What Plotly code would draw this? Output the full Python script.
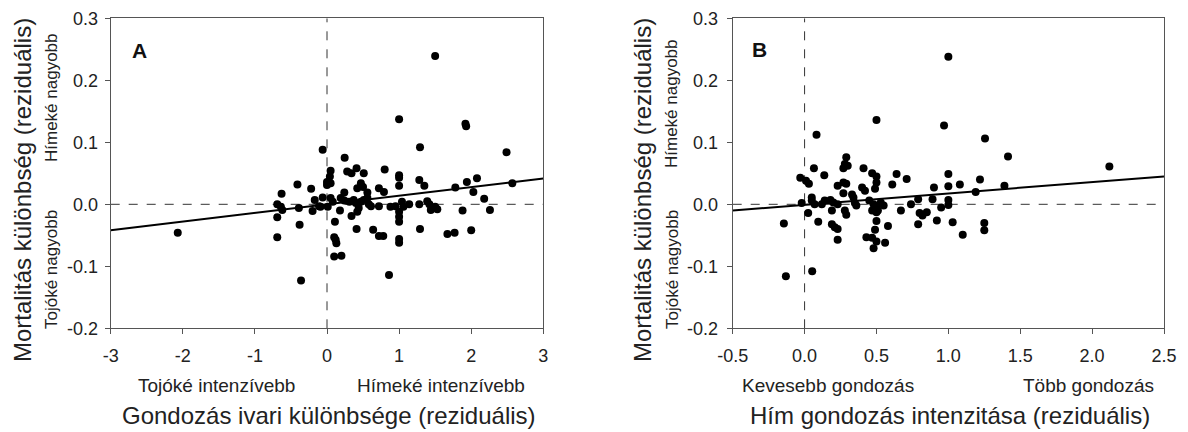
import plotly.graph_objects as go

# browser body margin offset (page places the figure 8px from the top-left)
OFF = 8
W, H = 1188 - OFF, 432 - OFF

# ---- Panel A data: sex difference in care (residual) vs mortality difference ----
a_x = [1.50, 1.00, 1.92, 1.93, 1.29, 2.49, -0.06, 0.245, 0.80, 0.41,
       0.28, 0.34, 0.51, 0.05, 0.04, 1.00, 1.00, 0.00, 0.05, 0.00,
       -0.41, -0.22, -0.63, 0.47, 0.50, 0.42, 0.56, 0.72, 0.79, 1.00,
       1.28, 1.35, 1.78, 1.94, 2.08, 2.03, 2.18, 2.57, 0.24, -0.17,
       -0.06, 0.05, 0.08, -0.11, -0.20, -0.39, -0.69, -0.64, -0.62, -0.69,
       -0.69, -0.38, -2.07, -0.36, 0.11, 0.10, 0.12, 0.13, 0.10, 0.20,
       0.18, 0.34, 0.41, 0.42, 0.44, 0.37, 0.40, 0.47, 0.51, 0.58,
       0.61, 0.72, 0.64, 0.72, 0.78, 0.86, 0.88, 0.95, 1.00, 1.00,
       1.00, 1.00, 1.00, 1.04, 1.06, 1.14, 1.28, 1.29, 1.39, 1.42,
       1.44, 1.50, 1.53, 1.67, 1.77, 1.88, 2.00, 2.26, 0.19, 0.24,
       0.31, 0.56, 0.01, -0.09]
a_y = [0.239, 0.137, 0.130, 0.126, 0.092, 0.084, 0.088, 0.075, 0.056, 0.058,
       0.053, 0.050, 0.050, 0.054, 0.045, 0.047, 0.043, 0.036, 0.034, 0.031,
       0.032, 0.025, 0.017, 0.034, 0.028, 0.026, 0.019, 0.026, 0.020, 0.030,
       0.039, 0.030, 0.027, 0.036, 0.042, 0.020, 0.009, 0.034, 0.019, 0.007,
       0.011, 0.010, 0.004, -0.003, -0.011, -0.006, 0.000, -0.004, -0.009, -0.021,
       -0.053, -0.033, -0.046, -0.123, -0.028, -0.053, -0.057, -0.063, -0.084, -0.083,
       -0.010, -0.019, -0.040, -0.012, -0.006, 0.007, 0.002, 0.004, 0.007, 0.000,
       -0.003, -0.003, -0.041, -0.051, -0.051, -0.114, -0.004, -0.003, -0.012, -0.020,
       -0.028, -0.056, -0.062, 0.004, -0.004, 0.000, 0.000, -0.040, 0.005, 0.000,
       -0.009, -0.004, -0.008, -0.048, -0.046, -0.010, -0.042, -0.009, 0.010, 0.006,
       0.004, 0.010, -0.004, -0.004]
a_intercept, a_slope = 0.000, 0.0139

# ---- Panel B data: male care intensity (residual) vs mortality difference ----
b_x = [1.00, 0.50, 0.97, 0.083, 1.255, 1.415, 2.12, 0.29, 0.28, 0.27,
       0.30, 0.065, 0.41, 0.47, 0.50, 0.50, 0.49, 0.64, 0.71, 1.00,
       0.137, -0.03, 0.01, 0.03, 0.27, 0.23, 0.29, 0.40, 0.42, 0.61,
       0.90, 1.00, 1.08, 1.22, 1.39, 1.19, 0.27, 0.33, 0.34, 0.05,
       0.05, -0.02, 0.07, 0.12, 0.14, 0.18, 0.20, 0.23, 0.19, 0.28,
       0.29, 0.35, 0.36, 0.45, 0.48, 0.50, 0.51, 0.53, 0.55, 0.47,
       0.50, 0.67, 0.74, 0.79, 0.89, 0.95, 1.00, 1.00, 0.80, 0.82,
       0.85, 0.79, 0.92, 1.03, 1.10, 1.25, 1.25, 0.025, 0.095, -0.144,
       0.19, 0.21, 0.23, 0.23, 0.50, 0.49, 0.58, 0.43, 0.47, 0.48,
       0.50, 0.56, -0.13, 0.053]
b_y = [0.238, 0.136, 0.127, 0.112, 0.106, 0.077, 0.061, 0.076, 0.065, 0.058,
       0.062, 0.058, 0.058, 0.050, 0.045, 0.035, 0.025, 0.049, 0.041, 0.049,
       0.047, 0.043, 0.038, 0.033, 0.035, 0.030, 0.033, 0.027, 0.022, 0.032,
       0.027, 0.029, 0.032, 0.040, 0.030, 0.020, 0.018, 0.016, 0.011, 0.011,
       0.006, 0.002, 0.000, 0.000, 0.006, 0.007, 0.003, 0.000, -0.010, -0.010,
       -0.017, 0.002, -0.002, 0.006, 0.000, -0.005, -0.010, 0.003, -0.002, -0.010,
       -0.013, -0.010, 0.000, 0.008, 0.008, -0.005, -0.001, 0.007, -0.014, -0.018,
       -0.013, -0.032, -0.026, -0.029, -0.049, -0.030, -0.042, -0.014, -0.028, -0.031,
       -0.032, -0.037, -0.040, -0.057, -0.027, -0.041, -0.035, -0.053, -0.054, -0.071,
       -0.060, -0.062, -0.116, -0.108]
b_intercept, b_slope = -0.0008, 0.0183

a_xrange = [-3, 3]
b_xrange = [-0.5, 2.5]
y_range = [-0.2, 0.3]

# tick labels (hyphen minus as in the original)
a_xticks = [-3, -2, -1, 0, 1, 2, 3]
a_xticktext = ["-3", "-2", "-1", "0", "1", "2", "3"]
b_xticks = [-0.5, 0.0, 0.5, 1.0, 1.5, 2.0, 2.5]
b_xticktext = ["-0.5", "0.0", "0.5", "1.0", "1.5", "2.0", "2.5"]
y_ticks = [-0.2, -0.1, 0.0, 0.1, 0.2, 0.3]
y_ticktext = ["-0.2", "-0.1", "0.0", "0.1", "0.2", "0.3"]

FONT = "Arial, 'Liberation Sans', sans-serif"
AX = "#555555"
TXT = "#222222"

# plot-area pixel geometry (page coordinates)
A_L, A_R = 110.7, 543.3
B_L, B_R = 732.7, 1164.0
P_T, P_B = 18.3, 328.3


def px(x):
    return (x - OFF) / W


def py(y):
    return 1 - (y - OFF) / H


fig = go.Figure()

marker = dict(color="black", size=8, line=dict(width=0))
fig.add_trace(go.Scatter(x=a_x, y=a_y, mode="markers", marker=marker,
                         xaxis="x", yaxis="y", showlegend=False))
fig.add_trace(go.Scatter(x=a_xrange,
                         y=[a_intercept + a_slope * v for v in a_xrange],
                         mode="lines", line=dict(color="black", width=2),
                         xaxis="x", yaxis="y", showlegend=False))
fig.add_trace(go.Scatter(x=b_x, y=b_y, mode="markers", marker=marker,
                         xaxis="x2", yaxis="y2", showlegend=False))
fig.add_trace(go.Scatter(x=b_xrange,
                         y=[b_intercept + b_slope * v for v in b_xrange],
                         mode="lines", line=dict(color="black", width=2),
                         xaxis="x2", yaxis="y2", showlegend=False))

axis_common = dict(showline=True, linecolor=AX, linewidth=1, mirror=True,
                   ticks="outside", ticklen=5, tickcolor=AX, tickwidth=1,
                   showgrid=False, zeroline=False, automargin=False,
                   tickmode="array",
                   tickfont=dict(family=FONT, size=18, color=TXT))

fig.update_layout(
    width=W, height=H,
    margin=dict(l=0, r=0, t=0, b=0, autoexpand=False),
    paper_bgcolor="white", plot_bgcolor="white",
    xaxis=dict(domain=[px(A_L), px(A_R)], range=a_xrange,
               tickvals=a_xticks, ticktext=a_xticktext,
               anchor="y", ticklabelstandoff=6, **axis_common),
    yaxis=dict(domain=[py(P_B), py(P_T)], range=y_range,
               tickvals=y_ticks, ticktext=y_ticktext,
               anchor="x", ticklabelstandoff=3, **axis_common),
    xaxis2=dict(domain=[px(B_L), px(B_R)], range=b_xrange,
                tickvals=b_xticks, ticktext=b_xticktext,
                anchor="y2", ticklabelstandoff=6, **axis_common),
    yaxis2=dict(domain=[py(P_B), py(P_T)], range=y_range,
                tickvals=y_ticks, ticktext=y_ticktext,
                anchor="x2", ticklabelstandoff=5, **axis_common),
)

# dashed zero reference lines
dash = dict(color="#333333", width=1, dash="dash")
for xr, yr, rng in (("x", "y", a_xrange), ("x2", "y2", b_xrange)):
    fig.add_shape(type="line", xref=xr, yref=yr, x0=rng[0], x1=rng[1],
                  y0=0, y1=0, line=dash, layer="below")
    fig.add_shape(type="line", xref=xr, yref=yr, x0=0, x1=0,
                  y0=y_range[0], y1=y_range[1], line=dash, layer="below")


def ann(text, x, y, size, angle=0, bold=False, color=TXT):
    fig.add_annotation(text=("<b>%s</b>" % text) if bold else text,
                       x=px(x), y=py(y), xref="paper", yref="paper",
                       showarrow=False, textangle=angle,
                       xanchor="center", yanchor="middle",
                       font=dict(family=FONT, size=size, color=color))


# panel letters
ann("A", 139, 50, 21, bold=True, color="#111111")
ann("B", 760, 49, 21, bold=True, color="#111111")

# y titles
ann("Mortalitás különbség (reziduális)", 22, 190, 24, angle=-90)
ann("Mortalitás különbség (reziduális)", 642, 190, 24, angle=-90)
ann("Hímeké nagyobb", 51, 98, 17, angle=-90)
ann("Tojóké nagyobb", 51, 270, 17, angle=-90)
ann("Hímeké nagyobb", 672, 104, 17, angle=-90)
ann("Tojóké nagyobb", 672, 270, 17, angle=-90)

# x sub labels and titles
ann("Tojóké intenzívebb", 216, 385, 19)
ann("Hímeké intenzívebb", 441, 385, 19)
ann("Gondozás ivari különbsége (reziduális)", 329, 415, 24)
ann("Kevesebb gondozás", 828, 385, 19)
ann("Több gondozás", 1088, 385, 19)
ann("Hím gondozás intenzitása (reziduális)", 950, 415, 24)

fig.write_html("out.html")
